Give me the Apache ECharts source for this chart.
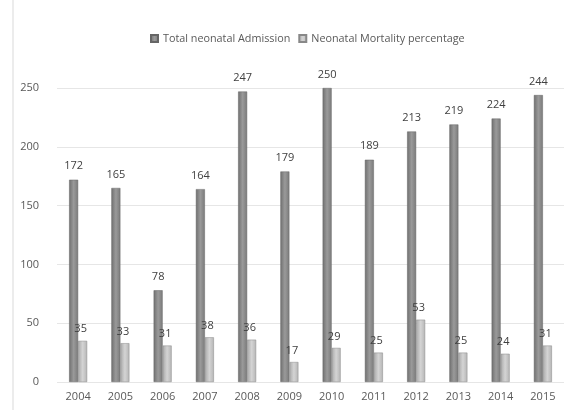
<!DOCTYPE html>
<html><head><meta charset="utf-8">
<script src="https://cdn.jsdelivr.net/npm/echarts@6/dist/echarts.min.js"></script>
<style>html,body{margin:0;padding:0;background:#fff}#c{width:567px;height:410px}</style>
</head><body><div id="c"></div>
<script>
const years = ['2004','2005','2006','2007','2008','2009','2010','2011','2012','2013','2014','2015'];
const totalAdmission = [172,165,78,164,247,179,250,189,213,219,224,244];
const mortality = [35,33,31,38,36,17,29,25,53,25,24,31];
const yTicks = [0,50,100,150,200,250];

const chart = echarts.init(document.getElementById('c'));
function grad(a,b,c){return new echarts.graphic.LinearGradient(0,0,1,0,[{offset:0,color:a},{offset:0.5,color:b},{offset:1,color:c}]);}
chart.setOption({
  animation:false,
  textStyle:{fontFamily:'Open Sans, DejaVu Sans, sans-serif'},
  graphic:[{type:'rect',shape:{x:13,y:-2,width:560,height:420},style:{fill:'none',stroke:'#d9d9d9',lineWidth:1},silent:true}],
  legend:{top:28,left:145,itemWidth:7,itemHeight:7,itemGap:8,
    textStyle:{color:'#595959',fontSize:10.8},
    data:[{name:'Total neonatal Admission',icon:'rect'},{name:'Neonatal Mortality percentage',icon:'rect'}]},
  grid:{left:57,right:3,top:88,bottom:28},
  xAxis:{type:'category',data:years,axisLine:{show:false},axisTick:{show:false},
    axisLabel:{color:'#595959',fontSize:11,margin:9}},
  yAxis:{type:'value',min:0,max:250,interval:50,
    axisLabel:{color:'#595959',fontSize:11,margin:18},
    splitLine:{lineStyle:{color:'#e6e6e6'}},axisLine:{show:false}},
  series:[
    {name:'Total neonatal Admission',type:'bar',data:totalAdmission,barWidth:9,barGap:'0%',
      itemStyle:{color:grad('#6f6f6f','#9a9a9a','#7a7a7a'),borderColor:'#666',borderWidth:0.5},
      label:{show:true,position:'top',color:'#404040',fontSize:11,distance:8}},
    {name:'Neonatal Mortality percentage',type:'bar',data:mortality,barWidth:9,
      itemStyle:{color:grad('#a8a8a8','#d4d4d4','#b5b5b5'),borderColor:'#888',borderWidth:0.5},
      label:{show:true,position:'top',color:'#404040',fontSize:11,distance:6,offset:[-2,0]}}
  ]
});
</script></body></html>
